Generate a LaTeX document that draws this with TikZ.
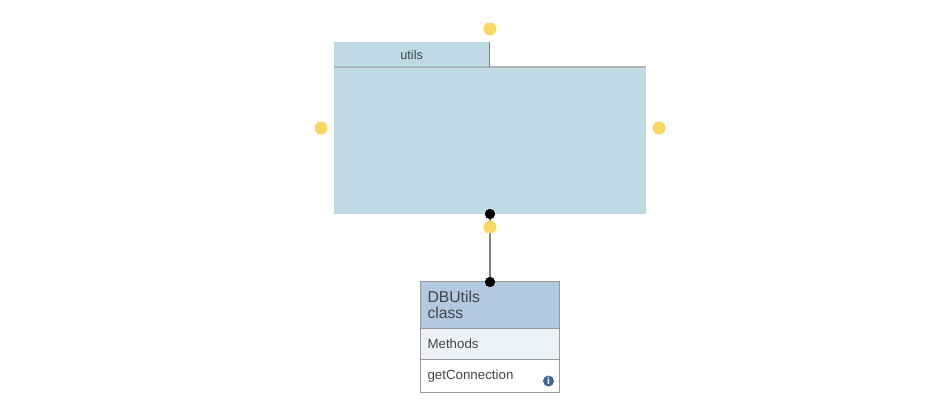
\documentclass[tikz,border=0pt]{standalone}
\usepackage{fontspec}
\setmainfont{Liberation Sans}
\definecolor{pkgfill}{HTML}{BFDAE5}
\definecolor{pkgline}{HTML}{A9B4BC}
\definecolor{handlefill}{HTML}{F9D765}
\definecolor{headfill}{HTML}{B3C9E0}
\definecolor{methfill}{HTML}{EEF2F7}
\definecolor{boxline}{HTML}{9A9A9A}
\definecolor{labeltext}{HTML}{3F4548}
\definecolor{infofill}{HTML}{3E6595}
\begin{document}
\begin{tikzpicture}[
        x=0.75pt, y=-0.75pt,
        every node/.style={inner sep=0pt, outer sep=0pt, text=labeltext},
        handle/.style={circle, fill=handlefill, minimum size=9.75pt},
        anchordot/.style={circle, fill=black, minimum size=7.5pt},
        pkgpart/.style={rectangle, fill=pkgfill},
        classpart/.style={rectangle, draw=boxline, line width=0.75pt, minimum width=104.25pt, anchor=north west, align=left, text width=93.75pt, inner xsep=5.25pt}
      ]
      \useasboundingbox (0,0) rectangle (949,418);
      % package
      \node[pkgpart, minimum width=234pt, minimum height=110.25pt, anchor=north west] (body) at (334,67) {};
      \node[pkgpart, minimum width=116.5pt, minimum height=18.75pt, anchor=north west, font=\fontsize{9.5}{11}\selectfont] (tab) at (334,42) {\raisebox{-0.75pt}{utils}};
      \draw[draw=pkgline, line width=0.9pt] (body.north west) -- (body.north east);
      \draw[draw=gray, line width=0.6pt] (tab.north east) -- (tab.south east);
      % class
      \node[classpart, fill=headfill, minimum height=35.25pt, font=\fontsize{11.8}{12.5}\selectfont] (head) at (420.5,281.5) {\raisebox{0.5pt}{DBUtils}\\\raisebox{0.5pt}{class}};
      \node[classpart, fill=methfill, minimum height=23.25pt, font=\fontsize{10}{11}\selectfont] (methods) at (head.south west) {\raisebox{-0.5pt}{Methods}};
      \node[classpart, fill=white, minimum height=24.5pt, font=\fontsize{10}{11}\selectfont] (conn) at (methods.south west) {\raisebox{-2pt}{getConnection}};
      \node[circle, fill=infofill, minimum size=8.25pt, text=white, font=\fontsize{7.5}{7.5}\selectfont\bfseries] (info) at (548.5,381) {i};
      % connector
      \node[anchordot] (top) at (490,214) {};
      \node[anchordot] (bottom) at (490,282) {};
      \draw[draw=gray, line width=1.6pt] (top) -- (bottom);
      \node[anchordot] at (top) {};
      \node[anchordot] at (bottom) {};
      % handles
      \node[handle] (hn) at (490,29) {};
      \node[handle] (hw) at (321,128) {};
      \node[handle] (he) at (659,128) {};
      \node[handle] (hs) at (490,227) {};
\end{tikzpicture}
\end{document}
